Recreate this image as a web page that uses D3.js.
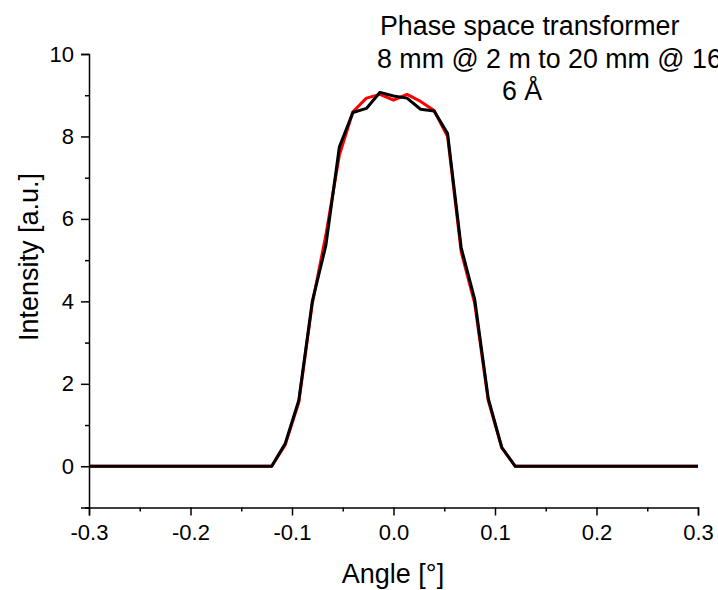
<!DOCTYPE html>
<html>
<head>
<meta charset="utf-8">
<script src="https://cdn.jsdelivr.net/npm/d3@7"></script>
<style>
  body { margin: 0; background: #fff; }
  text { font-family: "Liberation Sans", Arial, sans-serif; fill: #000; }
</style>
</head>
<body>
<div id="chart"></div>
<script>
const width = 718;
const height = 590;

// sample angles (deg) and the two measured profiles
const angles = [-0.3, -0.12, -0.1067, -0.0933, -0.08, -0.0667, -0.0533, -0.04, -0.0267, -0.0133,
  0, 0.0133, 0.0267, 0.04, 0.0533, 0.0667, 0.08, 0.0933, 0.1067, 0.12, 0.3];
const redValues = [0, 0, 0.52, 1.55, 3.95, 5.6, 7.55, 8.6, 8.93, 9.02,
  8.88, 9.02, 8.85, 8.63, 8.0, 5.2, 3.95, 1.6, 0.45, 0, 0];
const blackValues = [0, 0, 0.55, 1.6, 4.0, 5.35, 7.75, 8.58, 8.68, 9.07,
  8.98, 8.93, 8.66, 8.62, 8.07, 5.3, 4.05, 1.65, 0.45, 0, 0];

const xTicks = [-0.3, -0.2, -0.1, 0.0, 0.1, 0.2, 0.3];
const xMinor = [-0.25, -0.15, -0.05, 0.05, 0.15, 0.25];
const yTicks = [0, 2, 4, 6, 8, 10];
const yMinor = [-1, 1, 3, 5, 7, 9];

const svg = d3.select("#chart")
  .append("svg")
  .attr("width", width)
  .attr("height", height);

const x = d3.scaleLinear().domain([-0.3, 0.3]).range([89, 698]);
const y = d3.scaleLinear().domain([-1, 10]).range([507.5, 54]);

// axes (hyphen minus like the original, not U+2212)
svg.append("g")
  .attr("transform", `translate(0,${y(-1)})`)
  .call(d3.axisBottom(x).tickValues(xTicks).tickFormat(d => d.toFixed(1)).tickSize(8).tickPadding(9));

svg.append("g")
  .attr("transform", `translate(0,${y(-1)})`)
  .call(d3.axisBottom(x).tickValues(xMinor).tickFormat("").tickSize(4))
  .select(".domain").remove();

svg.append("g")
  .attr("transform", `translate(${x(-0.3)},0)`)
  .call(d3.axisLeft(y).tickValues(yTicks).tickFormat(d => String(d)).tickSize(8).tickPadding(7));

svg.append("g")
  .attr("transform", `translate(${x(-0.3)},0)`)
  .call(d3.axisLeft(y).tickValues(yMinor).tickFormat("").tickSize(4))
  .select(".domain").remove();

svg.selectAll(".domain").attr("stroke", "#000").attr("stroke-width", 1.5);
svg.selectAll(".tick line").attr("stroke", "#000").attr("stroke-width", 1.5);
svg.selectAll(".tick text").style("font-size", "22px")
  .style("font-family", "'Liberation Sans', Arial, sans-serif");

// curves
const line = d3.line()
  .x((d, i) => x(angles[i]))
  .y(d => y(d));

svg.append("path")
  .datum(redValues)
  .attr("fill", "none")
  .attr("stroke", "#ff0000")
  .attr("stroke-width", 3)
  .attr("stroke-linejoin", "round")
  .attr("d", line);

svg.append("path")
  .datum(blackValues)
  .attr("fill", "none")
  .attr("stroke", "#000")
  .attr("stroke-width", 3)
  .attr("stroke-linejoin", "round")
  .attr("d", line);

// axis titles
svg.append("text")
  .attr("x", 393)
  .attr("y", 583)
  .attr("text-anchor", "middle")
  .style("font-size", "27px")
  .text("Angle [°]");

svg.append("text")
  .attr("transform", "translate(38,257) rotate(-90)")
  .attr("text-anchor", "middle")
  .style("font-size", "27px")
  .text("Intensity [a.u.]");

// annotation (second line runs off the right edge, as in the original)
const note = svg.append("g").style("font-size", "26.8px");
note.append("text").attr("x", 380).attr("y", 35).text("Phase space transformer");
note.append("text").attr("x", 377).attr("y", 68).text("8 mm @ 2 m to 20 mm @ 16 m");
note.append("text").attr("x", 502).attr("y", 100).text("6 Å");
</script>
</body>
</html>
